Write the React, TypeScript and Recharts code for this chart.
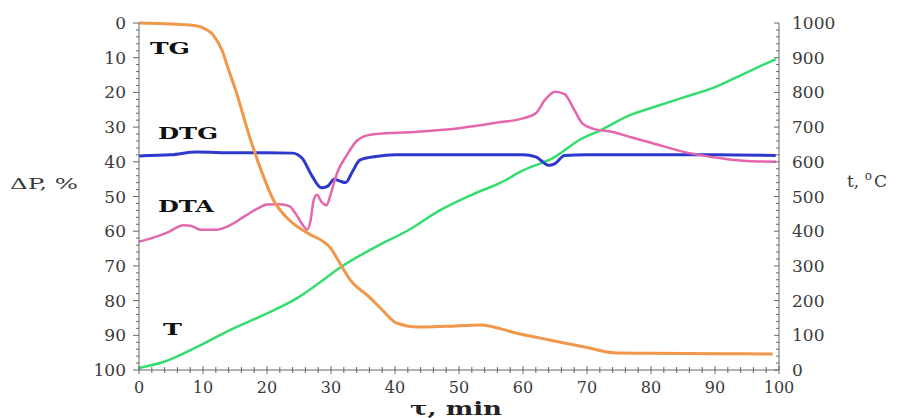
import { LineChart, Line, XAxis, YAxis } from 'recharts';

// TG curve, mass loss (%), left axis
const tgTime = [0, 5, 8, 10, 11.6, 13, 14, 15.3, 16.5, 17.4, 19.2, 21, 23.6, 26.8, 28.8, 30, 31, 33, 36, 38, 40.3, 43.5, 48, 53.4, 59, 64.3, 70, 74, 80, 90, 99];
const tgValue = [0, 0.3, 0.6, 1.4, 3.5, 8, 13.5, 20.5, 28, 33.5, 43, 51, 57, 61, 63, 65, 68, 74, 79, 82.7, 86.5, 87.6, 87.4, 87, 89.4, 91.4, 93.5, 95, 95.2, 95.3, 95.4];

// DTG curve, left axis units
const dtgTime = [0, 5, 9, 15, 20, 24, 25.5, 27, 28.5, 29.5, 30.5, 31.3, 32.3, 33.3, 34.5, 37, 40, 50, 60, 62, 64, 65, 66.5, 70, 80, 90, 99.5];
const dtgValue = [38.3, 38, 37.2, 37.4, 37.4, 37.5, 39, 44, 47.5, 47, 45, 45.5, 46, 43, 39.5, 38.5, 38, 38, 38, 38.6, 41, 40.5, 38.2, 38, 38, 38, 38.2];

// DTA curve, left axis units
const dtaTime = [0, 2, 4.3, 7, 8.2, 9.6, 12, 14, 16.6, 18.5, 20, 22, 23.5, 24.5, 25.5, 26.3, 26.8, 27.3, 27.8, 28.5, 29.3, 30, 31, 32.5, 34, 35, 37, 43, 50, 56, 60, 62, 63.5, 65, 66.5, 68, 69.3, 71, 74, 77, 80, 86, 91, 95, 99.5];
const dtaValue = [63, 62, 60.5, 58.3, 58.5, 59.6, 59.6, 58.5, 55.6, 53.5, 52.3, 52.2, 52.8, 55, 58, 59.5, 57, 51, 49.5, 51.5, 52.5, 49, 43, 38, 34, 32.8, 32, 31.4, 30.3, 28.7, 27.5, 26, 22, 19.8, 20.5, 25, 29, 30.5, 31.4, 33, 34.5, 37.5, 39, 39.8, 40];

// T curve, temperature (°C), right axis
const tTime = [0, 3.8, 9, 14.2, 19.4, 24.7, 28.3, 31.5, 37, 42, 47, 52, 56.5, 60, 64.8, 69, 72, 76.8, 80, 85, 90, 95, 99.5];
const tValue = [6, 23, 66, 115, 158, 207, 253, 296, 355, 402, 460, 505, 540, 575, 612, 665, 690, 735, 755, 785, 815, 858, 896];

const xTicks = Array.from({ length: 51 }, (_, i) => i * 2);
const leftTicks = Array.from({ length: 51 }, (_, i) => i * 2);
const rightTicks = Array.from({ length: 51 }, (_, i) => i * 20);

const zip = (xs: number[], ys: number[]) => xs.map((t, i) => ({ t, v: ys[i] }));

const AXIS = '#666';
const LABEL = '#3a3a3a';
const FONT = '"DejaVu Serif", "Liberation Serif", serif';

const LeftTick = ({ x, y, payload }: any) => {
  const v = payload.value;
  const major = v % 10 === 0;
  return (
    <g>
      <line x1={x} x2={x - (major ? 6 : 3)} y1={y} y2={y} stroke={AXIS} strokeWidth={1} />
      {major && (
        <text x={x - 13} y={y} textAnchor="end" dominantBaseline="central" fontFamily={FONT} fontSize={17} fill={LABEL}>
          {v}
        </text>
      )}
    </g>
  );
};

const RightTick = ({ x, y, payload }: any) => {
  const v = payload.value;
  const major = v % 100 === 0;
  return (
    <g>
      <line x1={x} x2={x - (major ? 5 : 3)} y1={y} y2={y} stroke={AXIS} strokeWidth={1} />
      {major && (
        <text x={x + 13} y={y} textAnchor="start" dominantBaseline="central" fontFamily={FONT} fontSize={17} fill={LABEL}>
          {v}
        </text>
      )}
    </g>
  );
};

const BottomTick = ({ x, y, payload }: any) => {
  const v = payload.value;
  const major = v % 10 === 0;
  return (
    <g>
      <line x1={x} x2={x} y1={y - (major ? 4 : 3)} y2={y + (major ? 4 : 3)} stroke={AXIS} strokeWidth={1} />
      {major && (
        <text x={x} y={y + 17} textAnchor="middle" dominantBaseline="central" fontFamily={FONT} fontSize={16} fill={LABEL}>
          {v}
        </text>
      )}
    </g>
  );
};

export default function App() {
  return (
    <div style={{ position: 'absolute', left: 0, top: 0, width: 907, height: 418, background: '#fff' }}>
      <LineChart width={907} height={418} margin={{ top: 23, right: 0, bottom: 0, left: 0 }}>
        <XAxis
          type="number"
          dataKey="t"
          domain={[0, 100]}
          ticks={xTicks}
          interval={0}
          height={48}
          tickSize={0}
          tickMargin={0}
          tickLine={false}
          stroke={AXIS}
          tick={<BottomTick />}
        />
        <YAxis
          yAxisId="left"
          type="number"
          domain={[0, 100]}
          reversed
          ticks={leftTicks}
          interval={0}
          width={139}
          tickSize={0}
          tickMargin={0}
          tickLine={false}
          stroke={AXIS}
          tick={<LeftTick />}
        />
        <YAxis
          yAxisId="right"
          orientation="right"
          type="number"
          domain={[0, 1000]}
          ticks={rightTicks}
          interval={0}
          width={128}
          tickSize={0}
          tickMargin={0}
          tickLine={false}
          stroke={AXIS}
          tick={<RightTick />}
        />
        <Line yAxisId="right" data={zip(tTime, tValue)} dataKey="v" type="monotone" stroke="#33dd6e" strokeWidth={2.5} dot={false} isAnimationActive={false} />
        <Line yAxisId="left" data={zip(dtgTime, dtgValue)} dataKey="v" type="monotone" stroke="#2f38cc" strokeWidth={3} dot={false} isAnimationActive={false} />
        <Line yAxisId="left" data={zip(dtaTime, dtaValue)} dataKey="v" type="monotone" stroke="#e466ad" strokeWidth={2.5} dot={false} isAnimationActive={false} />
        <Line yAxisId="left" data={zip(tgTime, tgValue)} dataKey="v" type="monotone" stroke="#f0974a" strokeWidth={3} dot={false} isAnimationActive={false} />
      </LineChart>
      <svg width={907} height={418} style={{ position: 'absolute', left: 0, top: 0, pointerEvents: 'none' }}>
        <g fontFamily={FONT} fontWeight="bold" fill="#111" fontSize={17}>
          <text x={150} y={48} dominantBaseline="central" textLength={40} lengthAdjust="spacingAndGlyphs">TG</text>
          <text x={158} y={133} dominantBaseline="central" textLength={60} lengthAdjust="spacingAndGlyphs">DTG</text>
          <text x={158} y={206} dominantBaseline="central" textLength={56} lengthAdjust="spacingAndGlyphs">DTA</text>
          <text x={163} y={329} dominantBaseline="central" textLength={19} lengthAdjust="spacingAndGlyphs">T</text>
        </g>
        <text x={10} y={184} dominantBaseline="central" fontFamily={FONT} fontSize={15} fill={LABEL} textLength={68} lengthAdjust="spacingAndGlyphs">ΔP, %</text>
        <text x={847} y={181} dominantBaseline="central" fontFamily={FONT} fontSize={17} fill={LABEL}>
          t, <tspan fontSize={12} dy={-5}>o</tspan><tspan dx={2} dy={5}>C</tspan>
        </text>
        <text x={410} y={408} dominantBaseline="central" fontFamily={FONT} fontSize={19} fontWeight="bold" fill="#222" textLength={92} lengthAdjust="spacingAndGlyphs">τ, min</text>
      </svg>
    </div>
  );
}
